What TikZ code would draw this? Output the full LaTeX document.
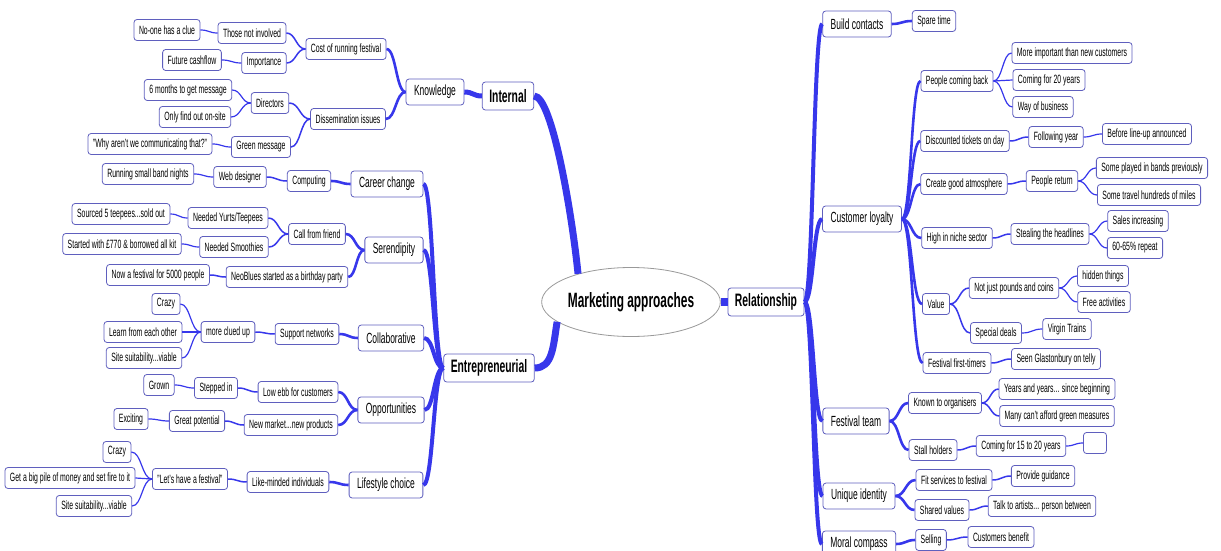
\documentclass[tikz,border=0pt]{standalone}
\usepackage{fontspec}
\setmainfont[FakeStretch=0.575]{Liberation Sans}
\usetikzlibrary{calc,shapes.geometric}
\definecolor{linkblue}{RGB}{55,55,235}
\definecolor{boxline}{RGB}{95,95,190}
\tikzset{
  leafbox/.style={draw=boxline,line width=0.8pt,rounded corners=3pt,fill=white,
    font=\fontsize{12}{13}\selectfont,inner xsep=5pt,inner ysep=0pt,minimum height=21pt},
  topicbox/.style={leafbox,font=\fontsize{14.7}{16}\selectfont,inner xsep=8pt,minimum height=26pt},
  mainbox/.style={leafbox,font=\fontsize{18}{19}\selectfont\bfseries,inner xsep=7pt,minimum height=28pt},
  rootnode/.style={ellipse,draw=gray!80,line width=0.8pt,fill=white,
    font=\fontsize{20.7}{22}\selectfont\bfseries,minimum width=157pt,minimum height=69pt,inner sep=0pt},
  link/.style={draw=linkblue}
}
% branch to the left / to the right
\newcommand{\lnkL}[3]{\draw[link,line width=#3] let \p1=(#1.west), \p2=(#2.east) in
  (\p1) .. controls ({(\x1+\x2)/2},\y1) and ({(\x1+\x2)/2},\y2) .. (\p2);}
\newcommand{\lnkR}[3]{\draw[link,line width=#3] let \p1=(#1.east), \p2=(#2.west) in
  (\p1) .. controls ({(\x1+\x2)/2},\y1) and ({(\x1+\x2)/2},\y2) .. (\p2);}

\begin{document}
\begin{tikzpicture}[x=1pt,y=-1pt]
  \useasboundingbox (0,0) rectangle (1221,551);

  \node[rootnode] (root) at (631,302) {Marketing approaches};

  % Internal
  \node[mainbox] (int) at (508,96) {Internal};
  \node[topicbox] (know) at (435,92) {Knowledge};
  \node[leafbox] (cost) at (346,49) {Cost of running festival};
  \node[leafbox] (diss) at (348,119) {Dissemination issues};
  \node[leafbox] (notinv) at (252,33) {Those not involved};
  \node[leafbox] (imp) at (264,63) {Importance};
  \node[leafbox] (noone) at (167,30) {No-one has a clue};
  \node[leafbox] (cash) at (192,60) {Future cashflow};
  \node[leafbox] (dir) at (270,103) {Directors};
  \node[leafbox] (sixm) at (188,90) {6 months to get message};
  \node[leafbox] (onsite) at (195,117) {Only find out on-site};
  \node[leafbox] (green) at (261,147) {Green message};
  \node[leafbox] (why) at (150,144) {"Why aren't we communicating that?"};

  % Entrepreneurial
  \node[mainbox] (ent) at (489,368) {Entrepreneurial};
  \node[topicbox] (career) at (387,184) {Career change};
  \node[leafbox] (comp) at (309,181) {Computing};
  \node[leafbox] (web) at (240,177) {Web designer};
  \node[leafbox] (band) at (148,174) {Running small band nights};
  \node[topicbox] (seren) at (394,250) {Serendipity};
  \node[leafbox] (call) at (317,234) {Call from friend};
  \node[leafbox] (neo) at (287,277) {NeoBlues started as a birthday party};
  \node[leafbox] (yurts) at (228,218) {Needed Yurts/Teepees};
  \node[leafbox] (smooth) at (234,247) {Needed Smoothies};
  \node[leafbox] (sourced) at (121,214) {Sourced 5 teepees...sold out};
  \node[leafbox] (started) at (122,244) {Started with £770 \& borrowed all kit};
  \node[leafbox] (fest5000) at (158,275) {Now a festival for 5000 people};
  \node[topicbox] (collab) at (391,338) {Collaborative};
  \node[leafbox] (support) at (307,334) {Support networks};
  \node[leafbox] (clued) at (228,332) {more clued up};
  \node[leafbox] (crazyA) at (166,304) {Crazy};
  \node[leafbox] (learn) at (143,332) {Learn from each other};
  \node[leafbox] (siteA) at (144,358) {Site suitability...viable};
  \node[topicbox] (opp) at (391,410) {Opportunities};
  \node[leafbox] (lowebb) at (298,392) {Low ebb for customers};
  \node[leafbox] (stepped) at (216,388) {Stepped in};
  \node[leafbox] (grown) at (159,385) {Grown};
  \node[leafbox] (newmkt) at (291,425) {New market...new products};
  \node[leafbox] (great) at (197,421) {Great potential};
  \node[leafbox] (exciting) at (131,419) {Exciting};
  \node[topicbox] (life) at (386,485) {Lifestyle choice};
  \node[leafbox] (like) at (288,482) {Like-minded individuals};
  \node[leafbox] (lets) at (190,479) {"Let's have a festival"};
  \node[leafbox] (crazyB) at (117,452) {Crazy};
  \node[leafbox] (pile) at (70,478) {Get a big pile of money and set fire to it};
  \node[leafbox] (siteB) at (94,506) {Site suitability...viable};

  % Relationship
  \node[mainbox] (rel) at (766,302) {Relationship};
  \node[topicbox] (build) at (857,24) {Build contacts};
  \node[leafbox] (spare) at (934,21) {Spare time};
  \node[topicbox] (loyal) at (862,219) {Customer loyalty};
  \node[leafbox] (back) at (957,81) {People coming back};
  \node[leafbox] (moreimp) at (1072,53) {More important than new customers};
  \node[leafbox] (twenty) at (1049,80) {Coming for 20 years};
  \node[leafbox] (way) at (1043,107) {Way of business};
  \node[leafbox] (disc) at (965,141) {Discounted tickets on day};
  \node[leafbox] (follow) at (1056,137) {Following year};
  \node[leafbox] (before) at (1147,134) {Before line-up announced};
  \node[leafbox] (atmos) at (964,184) {Create good atmosphere};
  \node[leafbox] (ret) at (1052,181) {People return};
  \node[leafbox] (played) at (1152,168) {Some played in bands previously};
  \node[leafbox] (travel) at (1149,195) {Some travel hundreds of miles};
  \node[leafbox] (niche) at (957,238) {High in niche sector};
  \node[leafbox] (steal) at (1050,234) {Stealing the headlines};
  \node[leafbox] (sales) at (1138,221) {Sales increasing};
  \node[leafbox] (repeat) at (1135,248) {60-65\% repeat};
  \node[leafbox] (value) at (936,304) {Value};
  \node[leafbox] (pounds) at (1014,288) {Not just pounds and coins};
  \node[leafbox] (hidden) at (1103,276) {hidden things};
  \node[leafbox] (free) at (1104,302) {Free activities};
  \node[leafbox] (deals) at (996,333) {Special deals};
  \node[leafbox] (virgin) at (1067,329) {Virgin Trains};
  \node[leafbox] (first) at (957,363) {Festival first-timers};
  \node[leafbox] (glast) at (1056,359) {Seen Glastonbury on telly};
  \node[topicbox] (team) at (856,421) {Festival team};
  \node[leafbox] (known) at (945,403) {Known to organisers};
  \node[leafbox] (years) at (1057,389) {Years and years... since beginning};
  \node[leafbox] (afford) at (1057,416) {Many can't afford green measures};
  \node[leafbox] (stall) at (933,450) {Stall holders};
  \node[leafbox] (fifteen) at (1021,446) {Coming for 15 to 20 years};
  \node[leafbox,minimum width=23pt] (empty) at (1095,443) {};
  \node[topicbox] (ident) at (859,496) {Unique identity};
  \node[leafbox] (fit) at (954,480) {Fit services to festival};
  \node[leafbox] (guide) at (1043,476) {Provide guidance};
  \node[leafbox] (shared) at (942,510) {Shared values};
  \node[leafbox] (talk) at (1042,506) {Talk to artists... person between};
  \node[topicbox] (moral) at (859,544) {Moral compass};
  \node[leafbox] (selling) at (931,540) {Selling};
  \node[leafbox] (benefit) at (1001,537) {Customers benefit};

  % main branches
  \draw[link,line width=7] (int.east) .. controls +(18,0) and +(-6,-60) .. (root.152);
  \draw[link,line width=7] (ent.east) .. controls +(18,0) and +(-4,25) .. (root.195);
  \draw[link,line width=8] (root.east) -- (rel.west);

  \foreach \a/\b/\w in {int/know/5, know/cost/2.6, know/diss/2.6, cost/notinv/1.5, cost/imp/1.5,
      notinv/noone/1.2, imp/cash/1.2, diss/dir/1.5, diss/green/1.5, dir/sixm/1.2, dir/onsite/1.2,
      green/why/1.2, ent/career/4, ent/seren/4, ent/collab/4, ent/opp/4, ent/life/4,
      career/comp/2.6, comp/web/1.5, web/band/1.2, seren/call/2.6, seren/neo/2.6,
      call/yurts/1.5, call/smooth/1.5, yurts/sourced/1.2, smooth/started/1.2, neo/fest5000/1.5,
      collab/support/2.6, support/clued/1.5, clued/crazyA/1.2, clued/learn/1.2, clued/siteA/1.2,
      opp/lowebb/2.6, opp/newmkt/2.6, lowebb/stepped/1.5, stepped/grown/1.2, newmkt/great/1.5,
      great/exciting/1.2, life/like/2.6, like/lets/1.5, lets/crazyB/1.2, lets/pile/1.2, lets/siteB/1.2}
    {\lnkL{\a}{\b}{\w}}

  \foreach \a/\b/\w in {rel/build/4, rel/loyal/4, rel/team/4, rel/ident/4, rel/moral/4,
      build/spare/2.6, loyal/back/2.6, loyal/disc/2.6, loyal/atmos/2.6, loyal/niche/2.6,
      loyal/value/2.6, loyal/first/2.6, back/moreimp/1.2, back/twenty/1.2, back/way/1.2,
      disc/follow/1.5, follow/before/1.2, atmos/ret/1.5, ret/played/1.2, ret/travel/1.2,
      niche/steal/1.5, steal/sales/1.2, steal/repeat/1.2, value/pounds/1.5, value/deals/1.5,
      pounds/hidden/1.2, pounds/free/1.2, deals/virgin/1.2, first/glast/1.5,
      team/known/2.6, team/stall/2.6, known/years/1.5, known/afford/1.5, stall/fifteen/1.5,
      fifteen/empty/1.2, ident/fit/2.6, ident/shared/2.6, fit/guide/1.5, shared/talk/1.5,
      moral/selling/2.6, selling/benefit/1.5}
    {\lnkR{\a}{\b}{\w}}
\end{tikzpicture}
\end{document}
